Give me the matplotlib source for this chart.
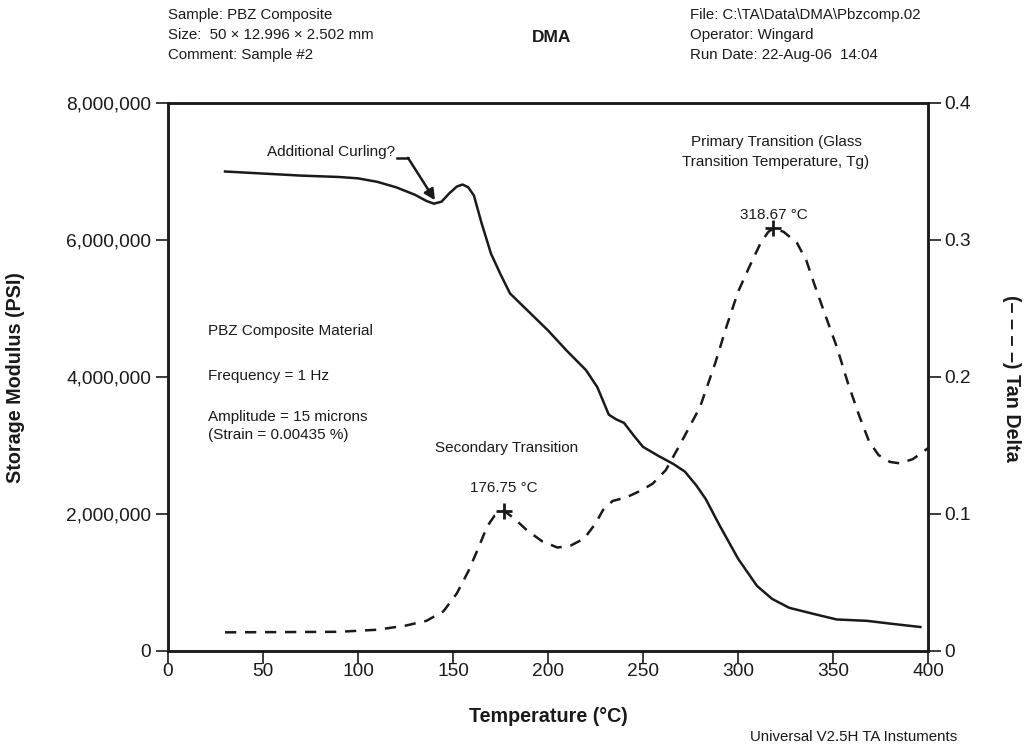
import matplotlib
matplotlib.use("Agg")
import matplotlib.pyplot as plt
from matplotlib.ticker import FuncFormatter

plt.rcParams['font.family'] = ['Liberation Sans', 'DejaVu Sans']

# storage modulus (PSI) vs temperature
temp_e = [30, 50, 70, 90, 100, 110, 120, 130, 136, 140, 144, 148, 152, 155, 158, 161,
          165, 170, 175, 180, 190, 200, 210, 220, 226, 232, 236, 240, 245, 250, 258,
          266, 272, 278, 283, 290, 300, 310, 318, 327, 340, 352, 368, 380, 396]
modulus = [7.0, 6.97, 6.94, 6.92, 6.90, 6.85, 6.77, 6.66, 6.57, 6.53, 6.56, 6.68, 6.78,
           6.81, 6.77, 6.65, 6.25, 5.80, 5.50, 5.22, 4.95, 4.68, 4.38, 4.10, 3.85, 3.45,
           3.38, 3.33, 3.15, 2.98, 2.85, 2.73, 2.62, 2.42, 2.22, 1.85, 1.35, 0.95, 0.76,
           0.63, 0.54, 0.46, 0.44, 0.40, 0.35]
modulus = [m * 1e6 for m in modulus]

# tan delta vs temperature
temp_t = [30, 60, 90, 110, 125, 136, 145, 152, 158, 163, 168, 172, 176.75, 182, 189, 197,
          205, 212, 219, 225, 229, 234, 241, 248, 255, 262, 270, 280, 288, 294, 300, 306,
          312, 316, 318.67, 324, 331, 336, 340, 346, 352, 358, 364, 369, 374, 380, 385,
          392, 400]
tan_delta = [0.0136, 0.0138, 0.014, 0.0155, 0.0185, 0.022, 0.029, 0.042, 0.058, 0.074,
             0.091, 0.099, 0.1024, 0.097, 0.088, 0.080, 0.0755, 0.077, 0.082, 0.093, 0.103,
             0.1095, 0.112, 0.1165, 0.122, 0.132, 0.152, 0.178, 0.21, 0.237, 0.262, 0.2805,
             0.298, 0.306, 0.3085, 0.306, 0.298, 0.285, 0.2685, 0.245, 0.222, 0.195, 0.171,
             0.153, 0.143, 0.138, 0.137, 0.14, 0.148]

peaks_t = [176.75, 318.67]
peaks_v = [0.1024, 0.3085]

c = '#1a1a1a'
fs = 11

fig = plt.figure(figsize=(10.29, 7.48), dpi=100)
ax = fig.add_axes([0.1633, 0.1297, 0.7385, 0.7326])
ax2 = ax.twinx()

ax.plot(temp_e, modulus, color=c, lw=1.8, solid_joinstyle='round')
ax2.plot(temp_t, tan_delta, color=c, lw=1.8, dashes=(4.5, 3.5))
ax2.plot(peaks_t, peaks_v, ls='none', marker='+', ms=12, mew=2, color=c)

ax.set_xlim(0, 400)
ax.set_ylim(0, 8e6)
ax2.set_ylim(0, 0.4)
ax.set_xticks(range(0, 401, 50))
ax.set_yticks([0, 2e6, 4e6, 6e6, 8e6])
ax2.set_yticks([0, 0.1, 0.2, 0.3, 0.4])
ax.yaxis.set_major_formatter(FuncFormatter(lambda v, p: f'{int(v):,}'))
ax2.yaxis.set_major_formatter(FuncFormatter(lambda v, p: '0' if v == 0 else f'{v:.1f}'))

for a in (ax, ax2):
    for s in a.spines.values():
        s.set_linewidth(1.8)
        s.set_color(c)
    a.tick_params(direction='out', length=9, width=1.2, labelsize=13.8,
                  colors=c, pad=3)
ax.tick_params(axis='x', pad=0)

# axis titles placed in figure pixels
W, H = 1029, 748
fig.text(548 / W, 1 - 717 / H, 'Temperature (°C)', ha='center', va='center',
         fontsize=14.2, fontweight='bold', color=c)
fig.text(16 / W, 1 - 378 / H, 'Storage Modulus (PSI)', ha='center', va='center',
         rotation=90, fontsize=14.2, fontweight='bold', color=c)
fig.text(1012 / W, 1 - 378 / H, '(– – – –) Tan Delta', ha='center', va='center',
         rotation=270, fontsize=14.2, fontweight='bold', color=c)

# arrow for the dip
ax.text(119.5, 7.23e6, 'Additional Curling?', ha='right', va='baseline', fontsize=fs, color=c)
ax.plot([120.5, 126.3], [7.2e6, 7.2e6], color=c, lw=1.8)
ax.annotate('', xy=(140.5, 6.58e6), xytext=(126.3, 7.2e6),
            arrowprops=dict(arrowstyle='-|>', color=c, lw=1.8, mutation_scale=16,
                            shrinkA=0, shrinkB=0))

ax.text(320, 7.29e6, 'Primary Transition (Glass\nTransition Temperature, Tg)',
        ha='center', va='center', fontsize=fs, color=c, linespacing=1.55)
ax2.text(319, 0.3185, '318.67 °C', ha='center', va='center', fontsize=fs, color=c)
ax2.text(177, 0.119, '176.75 °C', ha='center', va='center', fontsize=fs, color=c)
ax.text(178, 2.97e6, 'Secondary Transition', ha='center', va='center', fontsize=fs, color=c)
ax.text(21, 4.67e6, 'PBZ Composite Material', ha='left', va='center', fontsize=fs, color=c)
ax.text(21, 4.01e6, 'Frequency = 1 Hz', ha='left', va='center', fontsize=fs, color=c)
ax.text(21, 3.52e6, 'Amplitude = 15 microns\n(Strain = 0.00435 %)', ha='left',
        va='top', fontsize=fs, color=c, linespacing=1.35)

fig.text(168 / W, 1 - 8 / H, 'Sample: PBZ Composite\nSize:  50 × 12.996 × 2.502 mm\nComment: Sample #2',
         ha='left', va='top', fontsize=10.8, color=c, linespacing=1.56)
fig.text(552 / W, 1 - 38 / H, 'DMA', ha='center', va='center', fontsize=12.5,
         fontweight='bold', color=c)
fig.text(690 / W, 1 - 8 / H, 'File: C:\\TA\\Data\\DMA\\Pbzcomp.02\nOperator: Wingard\nRun Date: 22-Aug-06  14:04',
         ha='left', va='top', fontsize=10.8, color=c, linespacing=1.56)
fig.text(750 / W, 1 - 737 / H, 'Universal V2.5H TA Instuments', ha='left',
         va='center', fontsize=10.8, color=c)

fig.savefig('out.png', dpi=100)
